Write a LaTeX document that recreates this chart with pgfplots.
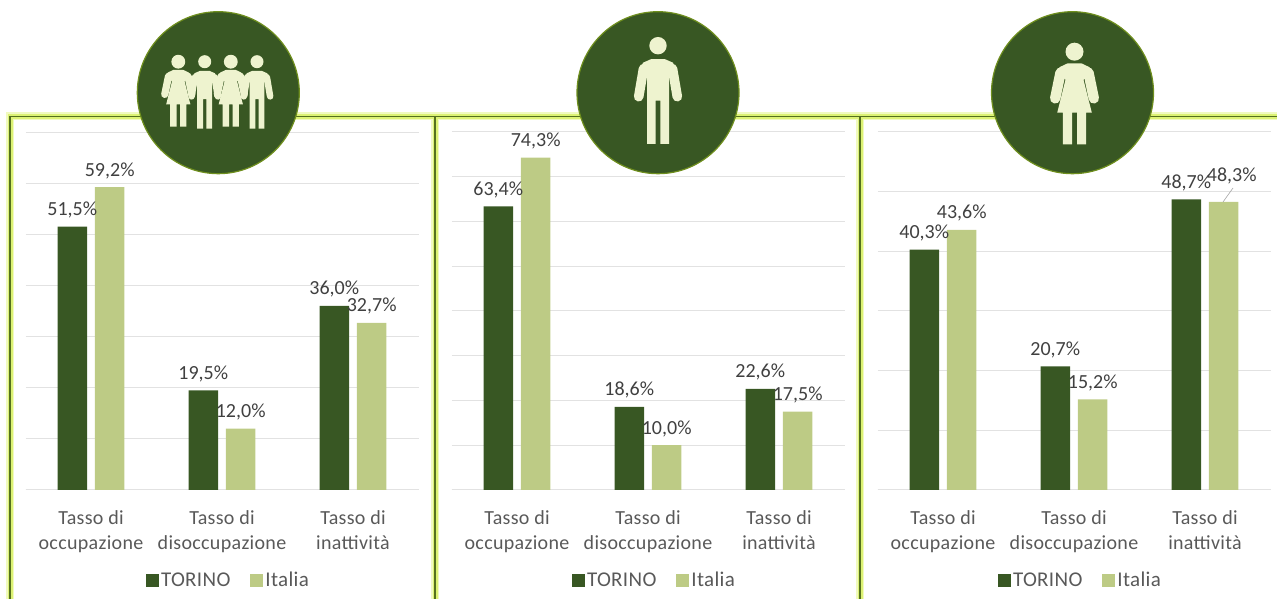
\documentclass[border=0pt]{standalone}
\usepackage{fontspec}
\usepackage{pgfplots}
\pgfplotsset{compat=1.18}
\setmainfont{Carlito}
\newfontfamily\spaziato[LetterSpace=1.6]{Carlito}
\definecolor{scuro}{HTML}{385723}
\definecolor{chiaro}{HTML}{BDCB85}
\definecolor{griglia}{HTML}{E2E2E2}
\definecolor{testo}{HTML}{595959}
\definecolor{valori}{HTML}{404040}
\definecolor{crema}{HTML}{EEF3CF}
\definecolor{bordo}{HTML}{6F8F1E}
\definecolor{alone}{HTML}{F1FAC0}
\definecolor{lime}{HTML}{DCF274}
\definecolor{filo}{HTML}{55701F}

\pgfplotsset{
  pannello/.style={
    scale only axis, width=393pt, height=358pt,
    anchor=south west,
    ymin=0, xmin=-0.5, xmax=2.5,
    axis x line*=bottom, axis y line*=left,
    y axis line style={draw=none},
    x axis line style={griglia, line width=1pt},
    ytick distance=10, yticklabels={},
    ymajorgrids, grid style={griglia, line width=1pt},
    xtick={0,1,2}, major tick length=0pt,
    xticklabels={{Tasso di\\occupazione},{Tasso di\\disoccupazione},{Tasso di\\inattività}},
    x tick label style={align=center, text=testo, yshift=-17pt,
      font=\spaziato\fontsize{20}{25.5}\selectfont},
    ybar, bar width=29.5pt,
    nodes near coords={\pgfmathprintnumber[fixed,fixed zerofill,precision=1,use comma,assume math mode=true]{\pgfplotspointmeta}\%},
    every node near coord/.append style={text=valori, yshift=5pt,
      font=\fontsize{20}{24}\selectfont},
    legend style={draw=none, fill=none, at={(0.5165,-0.252)}, anchor=center,
      legend columns=2, text=testo,
      font=\spaziato\fontsize{21}{24}\selectfont,
      /tikz/every even column/.append style={column sep=18pt}},
    legend cell align=left,
    legend image code/.code={\fill[##1] (-5.5pt,-6.5pt) rectangle (7.5pt,6.5pt);},
  },
  torino/.style={draw=none, fill=scuro, bar shift=-18.7pt},
  italia/.style={draw=none, fill=chiaro, bar shift=18.7pt},
}

\newcommand{\testa}{1}
% pictogram of a man: centre of the head at (#1,#2), size factor #3
\newcommand{\uomo}[3]{%
  \begin{scope}[shift={(#1pt,{599pt-#2pt})}, x=#3pt, y=-#3pt]
    \fill[crema] (0,0) circle (8.7*\testa);
    \fill[crema] (-7,13.5) -- (7,13.5) -- (15,17) -- (18,24) -- (11,30) -- (11,98.3)
      -- (2.3,98.3) -- (2.3,55) -- (-2.3,55) -- (-2.3,98.3) -- (-11,98.3) -- (-11,30)
      -- (-18,24) -- (-15,17) -- cycle;
    \draw[crema, line width=#3*9.6pt, line cap=round] (-14.5,23) -- (-19.3,51);
    \draw[crema, line width=#3*9.6pt, line cap=round] (14.5,23) -- (19.3,51);
  \end{scope}}
% pictogram of a woman, same conventions
\newcommand{\donna}[3]{%
  \begin{scope}[shift={(#1pt,{599pt-#2pt})}, x=#3pt, y=-#3pt]
    \fill[crema] (0,0) circle (9*\testa);
    \fill[crema] (-7,11.7) -- (7,11.7) -- (15,15.5) -- (17,22) -- (9,28) -- (17.3,61)
      -- (11.7,61) -- (11.7,92.8) -- (2.5,92.8) -- (2.5,61) -- (-2.5,61) -- (-2.5,92.8)
      -- (-11.7,92.8) -- (-11.7,61) -- (-17.3,61) -- (-9,28) -- (-17,22) -- (-15,15.5) -- cycle;
    \draw[crema, line width=#3*10.4pt, line cap=round] (-14,21) -- (-19.3,46.7);
    \draw[crema, line width=#3*10.4pt, line cap=round] (14,21) -- (19.3,46.7);
  \end{scope}}
% round badge
\newcommand{\disco}[1]{%
  \fill[scuro, draw=bordo, line width=1.2pt] (#1pt,{599pt-92.7pt}) circle (81pt);}

\begin{document}
\begin{tikzpicture}[x=1pt,y=1pt]
  \useasboundingbox (0,0) rectangle (1277,599);
  \clip (0,0) rectangle (1277,599);

  % frames of the three panels: soft halo, lime band, thin core line
  \foreach \w/\c in {8pt/alone, 5pt/lime, 1.3pt/filo}{
    \draw[\c, line width=\w] (10,-5) -- (10,482.8) -- (1285,482.8);
    \draw[\c, line width=\w] (435,-5) -- (435,482.8);
    \draw[\c, line width=\w] (860,-5) -- (860,482.8);
  }

  % totale
  \begin{axis}[pannello, at={(25.5pt,109pt)}, ymax=70]
    \addplot[torino] coordinates {(0,51.5) (1,19.5) (2,36.0)};
    \addplot[italia] coordinates {(0,59.2) (1,12.0) (2,32.7)};
    \legend{TORINO,Italia}
  \end{axis}

  % uomini
  \begin{axis}[pannello, at={(451.5pt,109pt)}, ymax=80]
    \addplot[torino] coordinates {(0,63.4) (1,18.6) (2,22.6)};
    \addplot[italia] coordinates {(0,74.3) (1,10.0) (2,17.5)};
    \legend{TORINO,Italia}
  \end{axis}

  % donne
  \begin{axis}[pannello, at={(877.5pt,109pt)}, ymax=60]
    \addplot[torino] coordinates {(0,40.3) (1,20.7) (2,48.7)};
    \addplot[italia, coordinate style/.condition={y>48}{xshift=8pt, yshift=9pt}]
      coordinates {(0,43.6) (1,15.2) (2,48.3)};
    \legend{TORINO,Italia}
  \end{axis}

  % leader of the shifted label
  \draw[gray!70, line width=0.6pt] (1223,{599-202}) -- (1233,{599-188});

  % badges with their pictograms
  \disco{218.3}
  \renewcommand{\testa}{1.1}
  \donna{178.3}{61.7}{0.7}
  \uomo{204.7}{61.7}{0.68}
  \donna{230.8}{61.7}{0.7}
  \uomo{257}{61.7}{0.68}
  \renewcommand{\testa}{1}

  \disco{658}
  \uomo{658}{45.7}{1}

  \disco{1072.5}
  \donna{1074.5}{51.7}{1}
\end{tikzpicture}
\end{document}
